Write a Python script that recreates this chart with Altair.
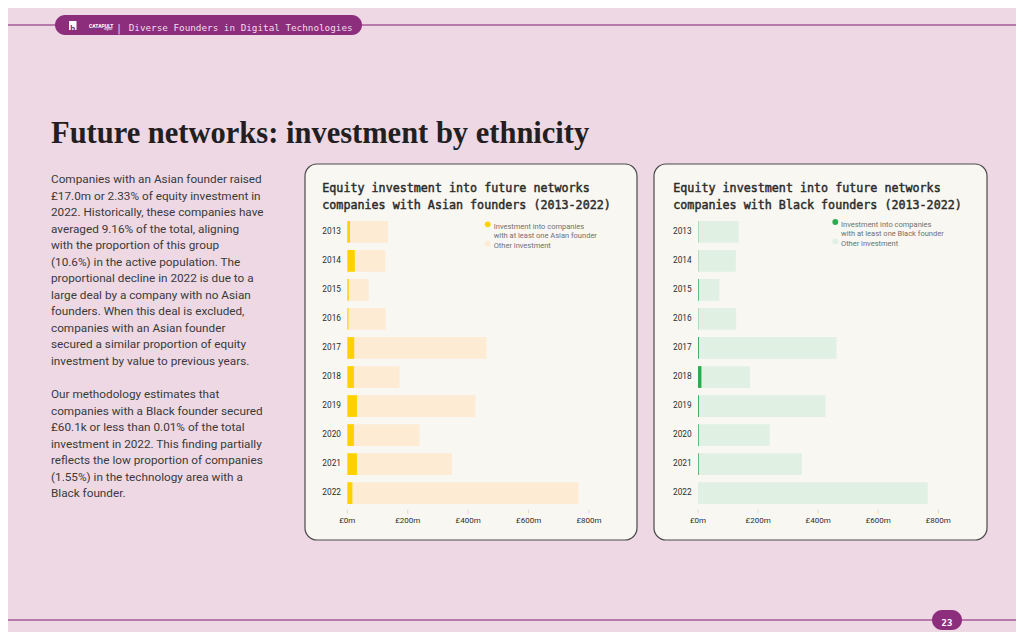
import altair as alt
import pandas as pd

# ---------------- data ----------------
years = ["2013", "2014", "2015", "2016", "2017", "2018", "2019", "2020", "2021", "2022"]
total_investment_m = [135, 126, 71, 127, 461, 173, 424, 239, 346, 765]
asian_investment_m = [9, 25, 5, 4, 23, 22, 32, 22, 32, 17]
black_investment_m = [1.0, 0.8, 2.5, 1.0, 3.0, 11.5, 3.0, 2.5, 2.5, 0.06]
tick_values = [0, 200, 400, 600, 800]
tick_labels = ["£0m", "£200m", "£400m", "£600m", "£800m"]

page_title = "Future networks: investment by ethnicity"
header_text = "Diverse Founders in Digital Technologies"
page_number = "23"
left_title = ["Equity investment into future networks", "companies with Asian founders (2013-2022)"]
right_title = ["Equity investment into future networks", "companies with Black founders (2013-2022)"]
left_legend = ["Investment into companies", "with at least one Asian founder"]
right_legend = ["Investment into companies", "with at least one Black founder"]
other_label = "Other investment"

para1 = [
    "Companies with an Asian founder raised",
    "£17.0m or 2.33% of equity investment in",
    "2022. Historically, these companies have",
    "averaged 9.16% of the total, aligning",
    "with the proportion of this group",
    "(10.6%) in the active population. The",
    "proportional decline in 2022 is due to a",
    "large deal by a company with no Asian",
    "founders. When this deal is excluded,",
    "companies with an Asian founder",
    "secured a similar proportion of equity",
    "investment by value to previous years.",
]
para2 = [
    "Our methodology estimates that",
    "companies with a Black founder secured",
    "£60.1k or less than 0.01% of the total",
    "investment in 2022. This finding partially",
    "reflects the low proportion of companies",
    "(1.55%) in the technology area with a",
    "Black founder.",
]

df = pd.DataFrame({
    "year": years,
    "total": total_investment_m,
    "asian": asian_investment_m,
    "black": black_investment_m,
})
ticks_df = pd.DataFrame({"v": tick_values, "label": tick_labels})

# ---------------- styling ----------------
W, H = 1008, 624
O = 8  # page margin offset
BG = "#EDD8E4"
PURPLE = "#8C2E7C"
LINE = "#A65A98"
PANEL = "#F9F7F2"
YELLOW = "#FFD100"
PEACH = "#FDEBD4"
GREEN = "#2DA94F"
LGREEN = "#E0F0E3"
SANS = "Roboto"
MONO = "DejaVu Sans Mono"
SERIF = "Liberation Serif"

one = alt.Data(values=[{"k": 1}])


def P(v):
    return v - O


def rect(x1, y1, x2, y2, **kw):
    return alt.Chart(one).mark_rect(**kw).encode(
        x=alt.value(P(x1)), x2=alt.value(P(x2)), y=alt.value(P(y1)), y2=alt.value(P(y2)))


def hline(x1, x2, y, **kw):
    return alt.Chart(one).mark_rule(**kw).encode(
        x=alt.value(P(x1)), x2=alt.value(P(x2)), y=alt.value(P(y)))


def txt(x, y, s, **kw):
    return alt.Chart(one).mark_text(**kw).encode(
        x=alt.value(P(x)), y=alt.value(P(y)), text=alt.value(s))


def dot(x, y, color, size=34):
    return alt.Chart(one).mark_circle(size=size, opacity=1, color=color).encode(
        x=alt.value(P(x)), y=alt.value(P(y)))


layers = []

# header
layers.append(hline(0, 1030, 25, color=LINE, strokeWidth=1.5))
layers.append(rect(55, 15, 362, 35, color=PURPLE, cornerRadius=10))
layers.append(rect(69, 21, 76.5, 30, color="#FFFFFF"))
layers.append(txt(72.8, 28.6, "h", font=SANS, fontSize=9, fontWeight="bold", color=PURPLE, align="center"))
layers.append(txt(89, 25.5, "CATAPULT", font=SANS, fontSize=5, fontWeight="bold", color="#FFFFFF", align="left"))
layers.append(txt(104, 29, "digital", font=SANS, fontSize=3, color="#FFFFFF", align="left"))
layers.append(txt(119, 28.5, "|", font=MONO, fontSize=10, color="#F3DDEB", align="center"))
layers.append(txt(128.7, 28.3, header_text, font=MONO, fontSize=9.3, color="#F3DDEB", align="left"))

# page title
layers.append(txt(51, 134, page_title, font=SERIF, fontSize=30.5, fontWeight="bold", color="#231F20", align="left"))

# body paragraphs
layers.append(txt(51, 179, para1, font=SANS, fontSize=11.75, lineHeight=16.5, color="#3A3A3A", align="left"))
layers.append(txt(51, 394, para2, font=SANS, fontSize=11.75, lineHeight=16.5, color="#3A3A3A", align="left"))

# panels
layers.append(rect(305, 164, 637, 540, color=PANEL, stroke="#4A4A4A", strokeWidth=1.2, cornerRadius=12))
layers.append(rect(654, 164, 987, 540, color=PANEL, stroke="#4A4A4A", strokeWidth=1.2, cornerRadius=12))

# panel titles (regular weight with a thin stroke for a medium look)
title_kw = dict(font=MONO, fontSize=11.7, lineHeight=16.5, color="#2B2B2B", stroke="#2B2B2B",
                strokeWidth=0.45, align="left")
layers.append(txt(322.3, 188, left_title, **title_kw))
layers.append(txt(673.3, 188, right_title, **title_kw))

Y_RANGE = [P(217.35), P(507.65)]


def bar_group(group_field, group_color, other_color, x0, x1, label_x):
    xs = alt.Scale(domain=[0, 800], range=[P(x0), P(x1)])
    ys = alt.Scale(domain=years, range=Y_RANGE, paddingInner=0.25, paddingOuter=0.125)
    base = alt.Chart(df)
    other = base.mark_bar(color=other_color).encode(
        y=alt.Y("year:O", scale=ys, axis=None),
        x=alt.X(f"{group_field}:Q", scale=xs, axis=None),
        x2="total:Q",
    )
    grp = base.mark_bar(color=group_color).encode(
        y=alt.Y("year:O", scale=ys, axis=None),
        x=alt.X("zero:Q", scale=xs, axis=None),
        x2=f"{group_field}:Q",
    ).transform_calculate(zero="0")
    ylab = base.mark_text(font=SANS, fontSize=8.3, color="#2D2D2D", align="right", baseline="middle").encode(
        y=alt.Y("year:O", scale=ys, axis=None),
        x=alt.value(P(label_x)),
        text="year:N",
    )
    tk = alt.Chart(ticks_df).mark_rule(color="#D0D0D0", strokeWidth=0.8).encode(
        x=alt.X("v:Q", scale=xs, axis=None),
        y=alt.value(P(509.7)),
        y2=alt.value(P(513.3)),
    )
    tl = alt.Chart(ticks_df).mark_text(font=SANS, fontSize=8, color="#2D2D2D", align="center", baseline="middle").encode(
        x=alt.X("v:Q", scale=xs, axis=None),
        y=alt.value(P(521.3)),
        text="label:N",
    )
    return alt.layer(other, grp, ylab, tk, tl)


layers.append(bar_group("asian", YELLOW, PEACH, 347.3, 589.0, 341.0))
layers.append(bar_group("black", GREEN, LGREEN, 698.0, 938.3, 691.7))

# legends
layers.append(dot(487.7, 224.3, YELLOW))
layers.append(txt(493.7, 226.8, left_legend, font=SANS, fontSize=7.5, lineHeight=9, color="#707070", align="left"))
layers.append(dot(487.7, 243.7, PEACH))
layers.append(txt(493.7, 246.2, other_label, font=SANS, fontSize=7.5, color="#707070", align="left"))

layers.append(dot(835.3, 222, GREEN))
layers.append(txt(841, 224.5, right_legend, font=SANS, fontSize=7.5, lineHeight=9, color="#707070", align="left"))
layers.append(dot(835.3, 241.3, LGREEN))
layers.append(txt(841, 243.8, other_label, font=SANS, fontSize=7.5, color="#707070", align="left"))

# footer
layers.append(hline(0, 1030, 620, color=LINE, strokeWidth=1.5))
layers.append(rect(932, 610, 962, 630, color=PURPLE, cornerRadius=10))
layers.append(txt(947, 623.3, page_number, font=MONO, fontSize=9, fontWeight="bold", color="#FFFFFF", align="center"))

chart = alt.layer(*layers).resolve_scale(x="independent", y="independent").properties(
    width=W, height=H, padding=0,
    autosize=alt.AutoSizeParams(type="none"),
    background=BG,
).configure_view(stroke=None)

chart.save("out.html", embed_options={"renderer": "svg", "actions": False})
